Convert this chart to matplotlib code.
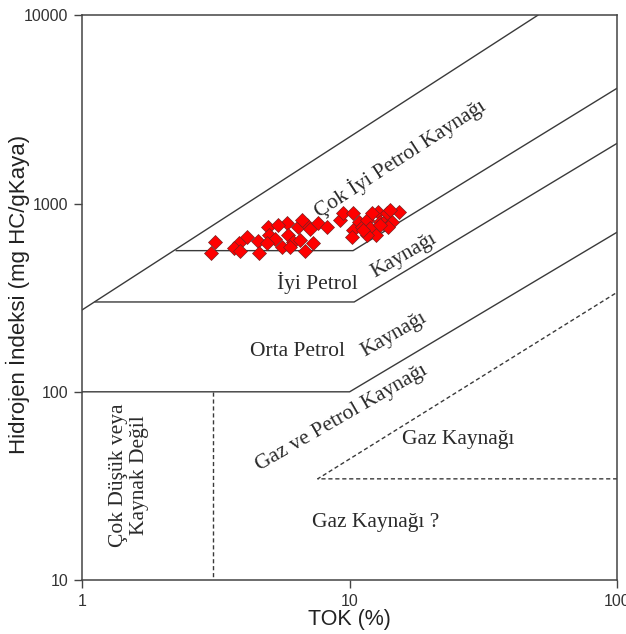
import matplotlib
matplotlib.use("Agg")
import matplotlib.pyplot as plt
from matplotlib.ticker import FixedLocator, FixedFormatter, NullLocator

# ---- data: TOK (%) vs Hidrojen Indeksi ----
tok = [3.14, 3.04, 4.14, 3.86, 3.70, 3.90, 4.55, 4.59, 4.96, 5.00, 5.27, 4.92,
       5.59, 5.84, 5.89, 6.15, 5.99, 6.42, 6.53, 6.82, 6.94, 7.12, 7.31, 7.63,
       8.24, 9.21, 9.46, 10.3, 10.8, 10.3, 10.2, 11.1, 11.6, 11.9, 12.5, 12.8,
       13.0, 13.8, 13.3, 14.4, 15.3, 11.6, 13.9, 6.64, 13.0, 14.2, 11.2, 5.40,
       12.1]
hi = [624, 545, 664, 616, 580, 559, 632, 545, 750, 680, 648, 616,
      587, 787, 680, 624, 587, 750, 640, 559, 769, 733, 616, 787,
      750, 817, 889, 889, 797, 723, 664, 750, 817, 741, 680, 900,
      797, 889, 787, 797, 900, 680, 750, 817, 767, 922, 723, 769,
      889]

# ---- classification boundaries (TOK, HI) ----
line_top_x = [1.0, 50.5]
line_top_y = [272, 10000]
line_vgood_x = [2.25, 10.3, 100]
line_vgood_y = [562, 562, 4100]
line_good_x = [1.12, 10.4, 100]
line_good_y = [300, 300, 2090]
line_fair_x = [1.0, 10.0, 100]
line_fair_y = [100, 100, 705]
dash_vert_x = [3.08, 3.08]
dash_vert_y = [100, 10]
dash_gas_x = [100, 7.6, 100]
dash_gas_y = [34.5, 34.5, 338]

x_ticks = [1, 10, 100]
x_ticklabels = ["1", "10", "100"]
y_ticks = [10, 100, 1000, 10000]
y_ticklabels = ["10", "100", "1000", "10000"]

fig = plt.figure(figsize=(6.26, 6.34), dpi=100)
ax = fig.add_axes([0.131, 0.085, 0.855, 0.891])
ax.set_xscale("log")
ax.set_yscale("log")
ax.set_xlim(1, 100)
ax.set_ylim(10, 10000)

lc = "#3a3a3a"
lw = 1.0
ax.plot(line_top_x, line_top_y, color=lc, lw=lw)
ax.plot(line_vgood_x, line_vgood_y, color=lc, lw=lw)
ax.plot(line_good_x, line_good_y, color=lc, lw=lw)
ax.plot(line_fair_x, line_fair_y, color=lc, lw=lw)
ax.plot(dash_vert_x, dash_vert_y, color=lc, lw=lw, ls=(0, (3, 2)))
ax.plot(dash_gas_x, dash_gas_y, color=lc, lw=lw, ls=(0, (3, 2)))

ax.plot(tok, hi, ls="none", marker="D", ms=7.2, mfc="#ff0000", mec="#7a2020",
        mew=0.5, zorder=5)

serif = "Liberation Serif"
tc = "#2a2a2a"
fs = 15.5
def lab(x, y, s, rot=0, **kw):
    ax.text(x, y, s, family=serif, fontsize=fs, color=tc, rotation=rot,
            ha="center", va="center", rotation_mode="anchor", **kw)

lab(15.4, 1742, "Çok İyi Petrol Kaynağı", 33)
lab(16.0, 526, "Kaynağı", 30)
lab(7.56, 378, "İyi Petrol")
lab(6.36, 163, "Orta Petrol")
lab(14.7, 202, "Kaynağı", 30)
lab(9.37, 72.4, "Gaz ve Petrol Kaynağı", 30)
lab(25.5, 56.1, "Gaz Kaynağı")
lab(12.5, 20.3, "Gaz Kaynağı ?")
ax.text(1.5, 36.0, "Çok Düşük veya\nKaynak Değil", family=serif, fontsize=fs,
        color=tc, rotation=90, ha="center", va="center", linespacing=1.1,
        multialignment="center")

ax.xaxis.set_major_locator(FixedLocator(x_ticks))
ax.xaxis.set_major_formatter(FixedFormatter(x_ticklabels))
ax.yaxis.set_major_locator(FixedLocator(y_ticks))
ax.yaxis.set_major_formatter(FixedFormatter(y_ticklabels))
ax.xaxis.set_minor_locator(NullLocator())
ax.yaxis.set_minor_locator(NullLocator())
ax.tick_params(direction="out", length=6, width=1, color="#444444",
               labelsize=11.5, labelcolor="#333333", pad=4)
for lbl in ax.get_xticklabels() + ax.get_yticklabels():
    lbl.set_family("Liberation Sans")
for sp in ax.spines.values():
    sp.set_color("#444444")
    sp.set_linewidth(1.1)

ax.set_xlabel("TOK (%)", family="Liberation Sans", fontsize=15.5, color="#222222",
              va="center")
ax.xaxis.set_label_coords(0.5, -0.070)
ax.set_ylabel("Hidrojen İndeksi (mg HC/gKaya)", family="Liberation Sans",
              fontsize=16, color="#222222")
ax.yaxis.set_label_coords(-0.098, 0.505)

fig.savefig("out.png", dpi=100)
